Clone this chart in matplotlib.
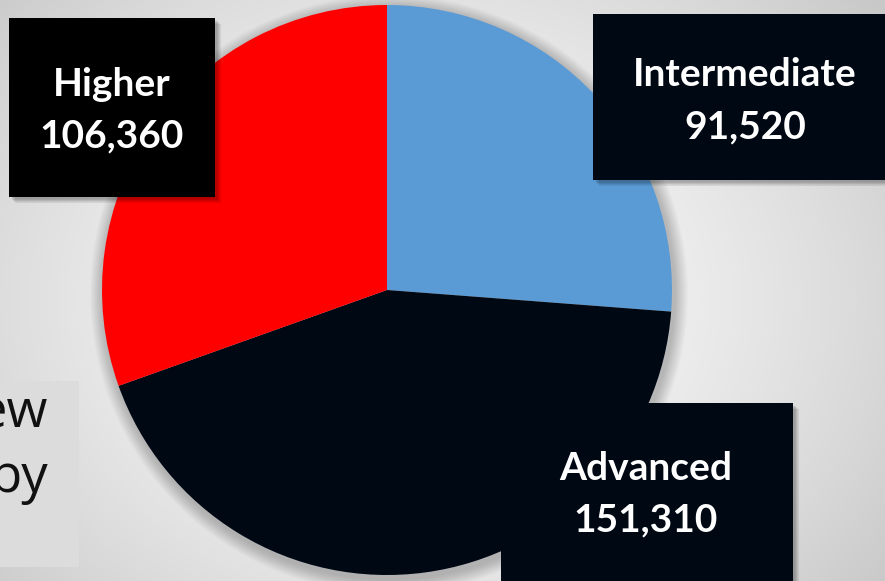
import numpy as np
import matplotlib
matplotlib.use("Agg")
import matplotlib.pyplot as plt
from matplotlib.patches import Rectangle, Circle

# ---- data ----
categories = ["Intermediate", "Advanced", "Higher"]
values = [91520, 151310, 106360]
colors = ["#5B9BD5", "#000814", "#FF0000"]
box_colors = ["#000814", "#000814", "#000000"]
side_text = ["ew", "py"]

W, H = 885, 581
fig = plt.figure(figsize=(W / 100, H / 100), dpi=100)
ax = fig.add_axes([0, 0, 1, 1])
ax.set_xlim(0, W)
ax.set_ylim(0, H)
ax.axis("off")

def py(y):  # pixel-from-top to data y
    return H - y

# background radial gradient
yy, xx = np.mgrid[0:H, 0:W]
d = np.sqrt(((xx - 420) / 520.0) ** 2 + ((yy - 300) / 420.0) ** 2)
g = np.clip(0.98 - 0.16 * d ** 1.6, 0.78, 1.0)
ax.imshow(np.dstack([g, g, g]), extent=[0, W, 0, H], origin="upper", zorder=0, aspect="auto")

# left grey text box (partially hidden slide text)
ax.add_patch(Rectangle((0, py(567)), 79, 186, facecolor="#dcdcdc", edgecolor="none", zorder=1))
for t, yv in zip(side_text, [414, 478]):
    ax.text(48, py(yv), t, ha="right", va="center", fontsize=38, color="#111111",
            family=["Open Sans", "DejaVu Sans"], zorder=2, clip_on=True)

cx, cy, r = 387, py(290), 285

# pie shadow
for i in range(14):
    ax.add_patch(Circle((cx + 2, cy - 4), r + 14 - i, facecolor="#000000", alpha=0.016,
                        edgecolor="none", zorder=3))

ax.pie(values, colors=colors, startangle=90, counterclock=False, center=(cx, cy), radius=r,
       wedgeprops=dict(edgecolor="none", linewidth=0, zorder=4), frame=False)
for w in ax.patches[-3:]:
    w.set_zorder(4)
ax.set_xlim(0, W)
ax.set_ylim(0, H)
ax.set_aspect("auto")

# label boxes: (x0, y0_top, x1, y1_bottom) in pixels, text center x, line y's
boxes = {
    "Intermediate": ((593, 14, 900, 180), 745, (74, 127)),
    "Advanced": ((501, 403, 793, 590), 646, (468, 520)),
    "Higher": ((9, 18, 215, 197), 112, (84, 136)),
}
for cat, val, bc in zip(categories, values, box_colors):
    (x0, y0, x1, y1), tx, (l1, l2) = boxes[cat]
    for k in range(8):
        ax.add_patch(Rectangle((x0 + 2 + k * 0.6, py(y1) - 2 - k * 0.6), x1 - x0, y1 - y0,
                               facecolor="#000000", alpha=0.04, edgecolor="none", zorder=5))
    ax.add_patch(Rectangle((x0, py(y1)), x1 - x0, y1 - y0, facecolor=bc, edgecolor="none", zorder=6))
    ax.text(tx, py(l1), cat, ha="center", va="center", fontsize=28, fontweight="bold",
            color="white", family=["Lato", "DejaVu Sans"], zorder=7)
    ax.text(tx, py(l2), f"{val:,}", ha="center", va="center", fontsize=28, fontweight="bold",
            color="white", family=["Lato", "DejaVu Sans"], zorder=7)

fig.savefig("out.png", dpi=100)
